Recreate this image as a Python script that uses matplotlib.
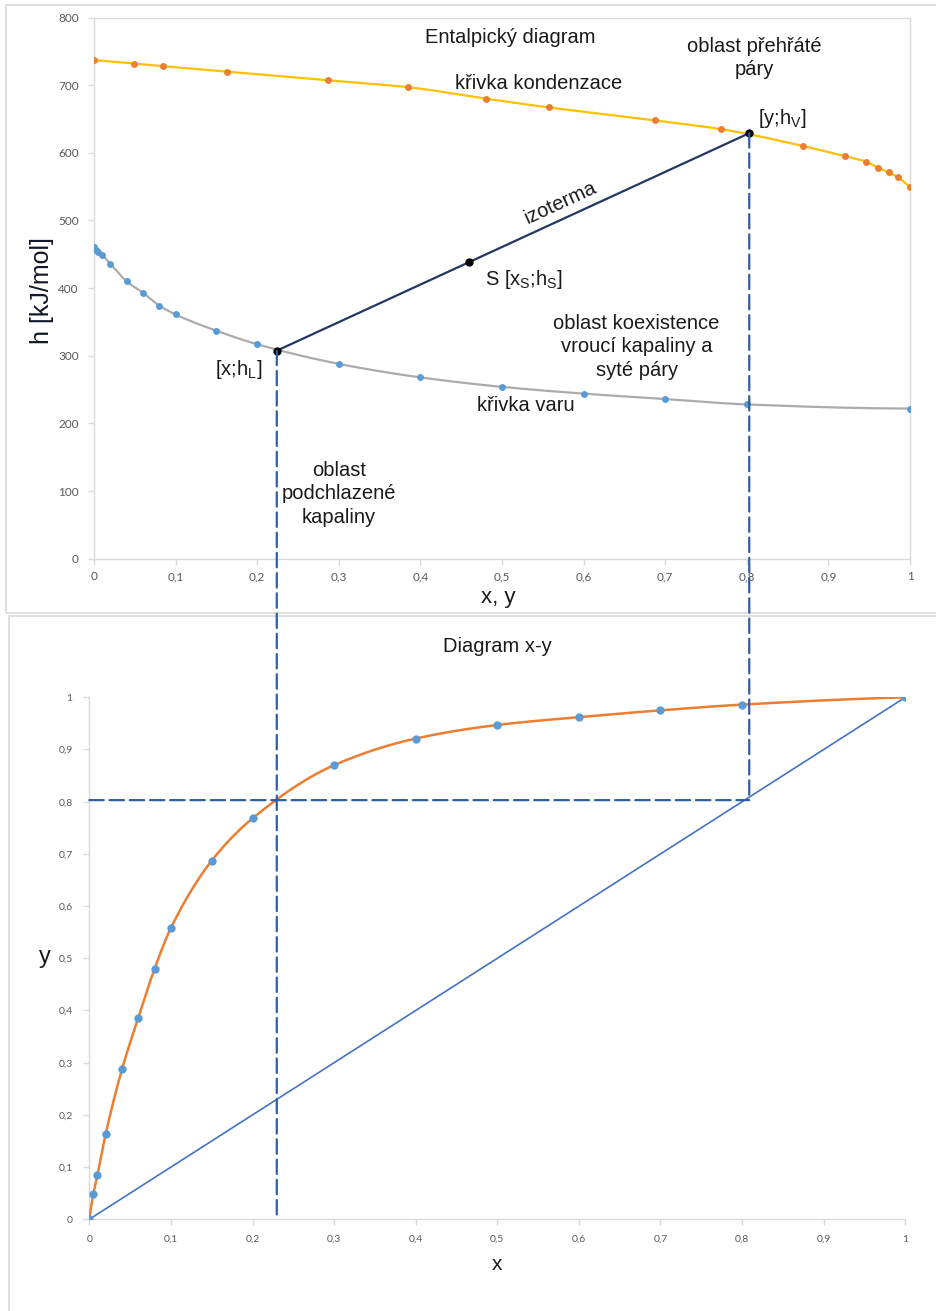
import numpy as np
import matplotlib
matplotlib.use("Agg")
import matplotlib.pyplot as plt
from matplotlib.patches import Rectangle, ConnectionPatch
from matplotlib.ticker import FuncFormatter
from matplotlib.transforms import blended_transform_factory

plt.rcParams['font.family'] = ['Liberation Sans', 'DejaVu Sans']
plt.rcParams['mathtext.fontset'] = 'custom'
plt.rcParams['mathtext.rm'] = 'Liberation Sans'
plt.rcParams['mathtext.it'] = 'Liberation Sans:italic'

# ---- enthalpy diagram data ----
x_liquid = [0, 0.0025, 0.005, 0.01, 0.02, 0.04, 0.06, 0.08, 0.1, 0.15, 0.2,
            0.3, 0.4, 0.5, 0.6, 0.7, 0.8, 1.0]
h_liquid = [461, 457, 453, 449, 436, 410, 393, 374, 361, 337, 317,
            288, 268, 254, 244, 236, 228, 222]

y_vapour = [0, 0.049, 0.085, 0.163, 0.287, 0.385, 0.480, 0.558, 0.687, 0.768,
            0.869, 0.920, 0.946, 0.961, 0.974, 0.985, 1.0]
h_vapour = [737, 732, 728, 720, 707, 697, 680, 667, 648, 635,
            610, 595, 587, 578, 571, 564, 549]

# isotherm end points and the mixture point S
iso_x = [0.224, 0.803]
iso_h = [307.5, 629]
s_point = (0.46, 439)

# ---- x-y diagram data ----
xy_x = [0, 0.005, 0.01, 0.02, 0.04, 0.06, 0.08, 0.1, 0.15, 0.2,
        0.3, 0.4, 0.5, 0.6, 0.7, 0.8, 1.0]
xy_y = [0, 0.049, 0.085, 0.163, 0.287, 0.386, 0.480, 0.558, 0.687, 0.768,
        0.870, 0.921, 0.947, 0.962, 0.975, 0.986, 1.0]

top_xticks = [0, 0.1, 0.2, 0.3, 0.4, 0.5, 0.6, 0.7, 0.8, 0.9, 1]
top_yticks = [0, 100, 200, 300, 400, 500, 600, 700, 800]
bot_ticks = [0, 0.1, 0.2, 0.3, 0.4, 0.5, 0.6, 0.7, 0.8, 0.9, 1]


def pchip(x, y, xs):
    """Shape-preserving piecewise cubic through the points."""
    x = np.asarray(x, float)
    y = np.asarray(y, float)
    h = np.diff(x)
    d = np.diff(y) / h
    n = len(x)
    m = np.zeros(n)
    for k in range(1, n - 1):
        if d[k - 1] * d[k] <= 0:
            m[k] = 0.0
        else:
            w1 = 2 * h[k] + h[k - 1]
            w2 = h[k] + 2 * h[k - 1]
            m[k] = (w1 + w2) / (w1 / d[k - 1] + w2 / d[k])

    def end(h0, h1, d0, d1):
        v = ((2 * h0 + h1) * d0 - h0 * d1) / (h0 + h1)
        if np.sign(v) != np.sign(d0):
            return 0.0
        if np.sign(d0) != np.sign(d1) and abs(v) > abs(3 * d0):
            return 3 * d0
        return v

    m[0] = end(h[0], h[1], d[0], d[1])
    m[-1] = end(h[-1], h[-2], d[-1], d[-2])
    xs = np.asarray(xs, float)
    i = np.clip(np.searchsorted(x, xs) - 1, 0, n - 2)
    t = (xs - x[i]) / h[i]
    h00 = 2 * t**3 - 3 * t**2 + 1
    h10 = t**3 - 2 * t**2 + t
    h01 = -2 * t**3 + 3 * t**2
    h11 = t**3 - t**2
    return h00 * y[i] + h10 * h[i] * m[i] + h01 * y[i + 1] + h11 * h[i] * m[i + 1]


comma = FuncFormatter(lambda v, p: f"{v:g}".replace('.', ','))

W, H = 936, 1311
fig = plt.figure(figsize=(W / 100, H / 100), dpi=100)


def fx(px):
    return px / W


def fy(py):
    return 1 - py / H


# panel frames
fig.patches.append(Rectangle((fx(6), fy(613)), fx(940) - fx(6), fy(5) - fy(613),
                             transform=fig.transFigure, fill=False,
                             edgecolor='#d9d9d9', lw=1.2))
fig.patches.append(Rectangle((fx(9), fy(1320)), fx(940) - fx(9), fy(616) - fy(1320),
                             transform=fig.transFigure, fill=False,
                             edgecolor='#d9d9d9', lw=1.2))

grey = '#d9d9d9'
tick_col = '#595959'
ink = '#1a1a1a'

# ================= enthalpy diagram =================
ax1 = fig.add_axes([fx(94), fy(558.7), fx(910) - fx(94), fy(17.5) - fy(558.7)])
ax1.set_xlim(0, 1)
ax1.set_ylim(0, 800)
for s in ax1.spines.values():
    s.set_color(grey)
    s.set_linewidth(1.0)
ax1.set_xticks(top_xticks)
ax1.set_yticks(top_yticks)
ax1.xaxis.set_major_formatter(comma)
ax1.tick_params(axis='both', direction='out', length=4, width=1, color=grey,
                labelcolor=tick_col, labelsize=8.5)
ax1.tick_params(axis='x', pad=5)
ax1.tick_params(axis='y', pad=7)
for lab in ax1.get_xticklabels() + ax1.get_yticklabels():
    lab.set_fontfamily(['Lato', 'DejaVu Sans'])

xs = np.linspace(0, 1, 400)
ax1.plot(xs, pchip(y_vapour, h_vapour, xs), color='#ffc000', lw=1.6, zorder=2)
ax1.plot(xs, pchip(x_liquid, h_liquid, xs), color='#ababab', lw=1.6, zorder=2)
ax1.plot(y_vapour, h_vapour, 'o', color='#ed7d31', ms=5, mec='none', zorder=3)
ax1.plot(x_liquid, h_liquid, 'o', color='#5b9bd5', ms=5, mec='none', zorder=3)

ax1.plot(iso_x, iso_h, color='#1f3864', lw=1.6, zorder=4)
ax1.plot(iso_x + [s_point[0]], iso_h + [s_point[1]], 'o', color='black',
         ms=6, mec='none', zorder=5)

fig.text(fx(42), fy(291), 'h [kJ/mol]', rotation=90, ha='center', va='center',
         fontsize=18, color='#111827')
fig.text(fx(498), fy(597), 'x, y', ha='center', va='center', fontsize=16, color=ink)

txt = dict(fontsize=14.5, color=ink)
ax1.text(0.51, 771, 'Entalpický diagram', ha='center', va='center', **txt)
ax1.text(0.809, 740, 'oblast přehřáté\npáry', ha='center', va='center',
         linespacing=1.3, **txt)
ax1.text(0.545, 702, 'křivka kondenzace', ha='center', va='center', **txt)
ax1.text(0.814, 651, r'[y;h$_\mathrm{V}$]', ha='left', va='center', **txt)
ax1.text(0.479, 413, r'S [x$_\mathrm{S}$;h$_\mathrm{S}$]', ha='left', va='center', **txt)
ax1.text(0.665, 313, 'oblast koexistence\nvroucí kapaliny a\nsyté páry',
         ha='center', va='center', linespacing=1.3, **txt)
ax1.text(0.529, 227, 'křivka varu', ha='center', va='center', **txt)
ax1.text(0.206, 280, r'[x;h$_\mathrm{L}$]', ha='right', va='center', **txt)
ax1.text(0.300, 96, 'oblast\npodchlazené\nkapaliny', ha='center', va='center',
         linespacing=1.3, **txt)

# izoterma label following the slope of the isotherm
p0 = ax1.transData.transform((iso_x[0], iso_h[0]))
p1 = ax1.transData.transform((iso_x[1], iso_h[1]))
angle = np.degrees(np.arctan2(p1[1] - p0[1], p1[0] - p0[0]))
ax1.text(0.572, 526, 'izoterma', ha='center', va='center', rotation=angle,
         rotation_mode='anchor', **txt)

# ================= x-y diagram =================
ax2 = fig.add_axes([fx(89.3), fy(1219.3), fx(905.3) - fx(89.3), fy(697.3) - fy(1219.3)])
ax2.set_xlim(0, 1)
ax2.set_ylim(0, 1)
for k in ('top', 'right'):
    ax2.spines[k].set_visible(False)
for k in ('left', 'bottom'):
    ax2.spines[k].set_color(grey)
    ax2.spines[k].set_linewidth(1.0)
ax2.set_xticks(bot_ticks)
ax2.set_yticks(bot_ticks)
ax2.xaxis.set_major_formatter(comma)
ax2.yaxis.set_major_formatter(comma)
ax2.tick_params(axis='both', direction='out', length=4, width=1, color=grey,
                labelcolor=tick_col, labelsize=7.5)
ax2.tick_params(axis='x', pad=7)
ax2.tick_params(axis='y', pad=8)
for lab in ax2.get_xticklabels() + ax2.get_yticklabels():
    lab.set_fontfamily(['Lato', 'DejaVu Sans'])

ax2.plot([0, 1], [0, 1], color='#4472c4', lw=1.2, zorder=2)
ax2.plot(xs, pchip(xy_x, xy_y, xs), color='#ed7d31', lw=1.8, zorder=3)
ax2.plot(xy_x, xy_y, 'o', color='#5b9bd5', ms=6, mec='none', zorder=4)

ax2.text(0.4996, 1.098, 'Diagram x-y', ha='center', va='center', fontsize=14.5,
         color=ink, clip_on=False)
fig.text(fx(45), fy(957), 'y', ha='center', va='center', fontsize=17, color=ink)
fig.text(fx(497), fy(1265), 'x', ha='center', va='center', fontsize=15, color=ink)

# ---- construction lines linking both diagrams ----
dash_col = '#2e5fa3'
link = blended_transform_factory(ax1.transData, ax2.transData)
dash_kw = dict(color=dash_col, lw=1.6, linestyle=(0, (6.5, 2.6)), zorder=6)

# vertical from the liquid point down to the x axis of the x-y diagram
fig.add_artist(ConnectionPatch(xyA=(iso_x[0], iso_h[0]), coordsA=ax1.transData,
                               xyB=(iso_x[0], 0), coordsB=link, **dash_kw))
# vertical from the vapour point down to the diagonal
fig.add_artist(ConnectionPatch(xyA=(iso_x[1], iso_h[1]), coordsA=ax1.transData,
                               xyB=(iso_x[1], iso_x[1]), coordsB=link, **dash_kw))
# horizontal at the vapour composition
fig.add_artist(ConnectionPatch(xyA=(0, iso_x[1]), coordsA=ax2.transData,
                               xyB=(iso_x[1], iso_x[1]), coordsB=link, **dash_kw))

fig.savefig('out.png', dpi=100)
